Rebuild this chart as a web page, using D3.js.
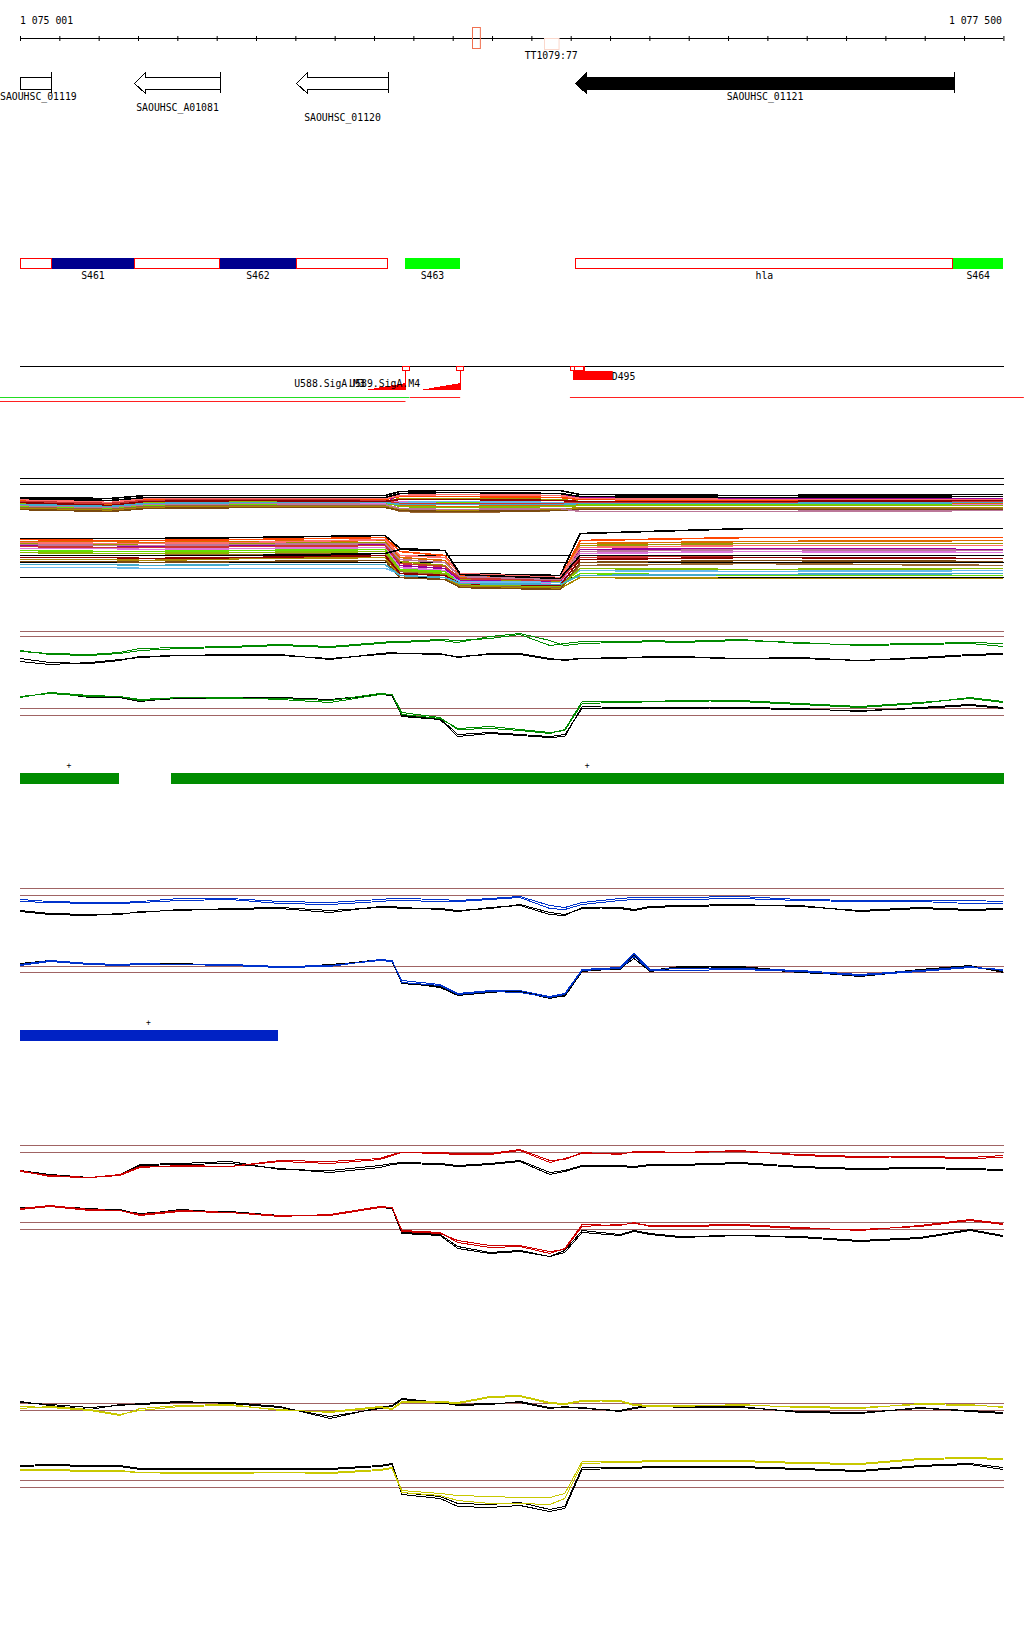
<!DOCTYPE html>
<html><head><meta charset="utf-8">
<script src="https://cdn.jsdelivr.net/npm/d3@7/dist/d3.min.js"></script>
<style>
html,body{margin:0;padding:0;background:#fff;}
svg text{font-family:"DejaVu Sans Mono",monospace;font-size:9.8px;fill:#000;}
</style></head><body>
<svg id="chart" width="1024" height="1640"></svg>
<script>
// ---------------- DATA ----------------
const regionStart = 1075001, regionEnd = 1077500;
const axisLabels = ["1 075 001", "1 077 500"];
const tickValues = d3.range(1075001, 1077502, 100);
const axisMarks = [{start:1076150,end:1076170,kind:"probe"},{start:1076333,end:1076370,kind:"faint",label:"TT1079:77"}];

const geneNames   = ["SAOUHSC_01119","SAOUHSC_A01081","SAOUHSC_01120","SAOUHSC_01121"];
const geneStarts  = [1074950,1075291,1075703,1076412];
const geneEnds    = [1075080,1075509,1075937,1077375];
const geneFilled  = [false,false,false,true];
const geneLabelRow= [0,1,2,0];

const segNames  = ["","S461","","S462","","S463","hla","S464"];
const segStarts = [1075001,1075082,1075291,1075509,1075703,1075979,1076413,1077374];
const segEnds   = [1075082,1075291,1075509,1075703,1075938,1076120,1077374,1077500];
const segTypes  = ["utr","navy","utr","navy","utr","green","utr","green"];

const siteNames = ["U588.SigA.M3","U589.SigA.M4"];
const sitePos   = [1075980,1076119];
const siteFrom  = [1075878,1076018];
const siteBoxes = [[1075973,1075991],[1076109,1076128],[1076400,1076435],[1076409,1076433]];
const termName = "D495", termStart = 1076407, termEnd = 1076508;
const covGreen = [[1074950,1075991]];
const covRedA  = [[1075992,1076120],[1076399,1077553]];
const covRedB  = [[1074950,1075981]];

// knots for the condition panels (bp)
const knots = [1075001,1075077,1075179,1075255,1075306,1075408,1075535,1075662,1075789,1075916,1075947,1075972,1076069,1076114,1076196,1076272,1076348,1076386,1076430,1076526,1076562,1076603,1076679,1076831,1076984,1077136,1077289,1077416,1077500];

const greenUpC1 = [19,17,16,18,22,23,24,26,24,28,29,29,31,30,32,36,25,27,29,29,29,30,29,31,27,26,27,28,27];
const greenUpC2 = [20,16,15,17,20,22,23,25,23,27,28,28,30,28,34,37,30,25,27,28,28,29,28,30,28,25,26,27,24];
const greenUpK1 = [12,8,7,10,14,15,16,16,11,17,18,17,16,14,16,16,11,11,12,13,13,13,13,12,12,10,13,16,17];
const greenUpK2 = [9,6,8,11,13,15,15,15,12,16,17,17,17,13,17,17,12,10,12,12,13,14,14,12,13,10,12,15,16];
const greenLoC1 = [48,53,50,49,45,48,47,47,45,52,51,33,28,16,17,15,12,16,44,44,44,44,44,45,42,39,43,47,43];
const greenLoC2 = [49,52,49,49,46,48,48,46,43,51,51,31,27,17,19,16,13,15,42,43,43,44,45,44,41,38,42,48,44];
const greenLoK1 = [48,53,48,48,44,48,48,47,45,51,51,30,27,11,13,11,9,11,37,37,38,38,38,37,36,35,37,40,37];
const greenLoK2 = [49,52,49,49,45,47,47,48,46,51,50,29,26,9,12,10,8,9,39,38,37,37,37,38,37,34,38,41,38];

const blueUpC1 = [26,24,23,23,24,27,27,24,23,26,27,27,26,25,27,29,20,18,23,27,28,28,28,29,26,25,25,25,24];
const blueUpC2 = [24,23,22,22,23,25,26,22,21,24,25,25,24,24,26,28,17,16,21,25,26,26,26,27,25,24,24,22,22];
const blueUpK1 = [15,12,11,11,14,15,17,18,15,18,18,17,17,15,17,21,13,11,17,18,16,19,20,21,19,15,18,16,17];
const blueUpK2 = [14,11,10,12,13,16,16,17,13,19,19,18,16,14,18,20,11,10,18,17,15,18,19,20,20,14,17,15,16];
const blueLoC1 = [41,45,42,41,42,41,41,39,40,45,44,25,21,12,15,15,9,12,36,38,52,36,37,37,35,31,35,39,35];
const blueLoC2 = [40,44,41,40,41,41,40,38,39,46,45,23,20,11,14,13,8,11,35,37,49,35,35,36,34,30,34,38,36];
const blueLoK1 = [41,44,41,41,41,42,40,38,41,45,44,22,19,11,15,14,7,10,35,36,50,35,39,38,33,30,36,40,33];
const blueLoK2 = [42,45,42,40,42,41,41,39,40,46,45,23,18,10,13,15,8,9,34,37,47,34,38,39,34,29,35,39,34];

const redUpC1 = [14,10,8,11,19,19,19,25,24,27,31,33,32,31,32,36,25,26,33,31,34,33,33,35,30,28,29,28,30];
const redUpC2 = [15,9,8,10,18,20,19,24,22,26,30,33,33,32,31,35,23,27,32,32,33,34,33,34,31,29,28,27,28];
const redUpK1 = [15,11,8,11,21,22,24,16,15,20,22,23,22,20,22,25,13,15,20,20,19,21,21,23,19,17,18,17,16];
const redUpK2 = [15,10,8,10,20,21,22,17,13,18,21,22,21,19,21,24,11,14,19,19,18,20,20,22,18,16,17,16,15];
const redLoC1 = [52,55,51,50,46,50,48,44,46,54,53,30,28,18,13,14,7,12,36,35,38,34,35,36,33,30,35,41,37];
const redLoC2 = [51,54,50,50,45,49,48,45,45,53,53,29,27,20,15,15,9,11,34,36,37,35,34,35,32,31,34,40,36];
const redLoK1 = [52,55,51,51,46,51,48,44,46,54,53,28,26,14,8,10,4,10,30,26,30,27,24,25,24,20,23,31,25];
const redLoK2 = [53,54,52,50,47,50,49,45,45,53,52,27,25,12,7,9,4,8,28,25,29,26,23,25,23,19,22,30,24];

const yelUpC1 = [24,23,20,15,22,25,26,20,19,24,22,29,29,28,34,35,28,27,30,29,25,24,24,26,23,22,27,26,23];
const yelUpC2 = [22,24,21,16,20,24,25,21,18,23,21,28,28,27,33,34,27,26,29,30,26,25,25,25,24,23,26,25,24];
const yelUpK1 = [29,25,21,26,26,28,28,24,12,23,25,32,28,25,26,29,23,23,23,19,22,24,24,24,18,17,23,19,17];
const yelUpK2 = [28,26,23,25,27,29,27,23,14,22,24,31,27,26,27,28,22,24,22,20,23,25,23,23,19,18,22,20,18];
const yelLoC1 = [51,51,50,50,48,48,48,48,48,51,53,30,27,25,24,23,23,27,59,59,59,60,60,60,58,57,62,63,62];
const yelLoC2 = [50,50,49,49,48,47,47,48,47,50,52,28,25,20,17,17,16,22,57,58,58,59,59,59,57,56,61,62,61];
const yelLoK1 = [55,56,55,55,52,52,52,52,52,55,57,28,24,17,16,18,11,14,53,53,53,54,54,54,52,50,55,57,53];
const yelLoK2 = [54,55,54,54,51,51,51,51,51,54,56,26,22,14,13,15,9,12,51,52,52,53,53,53,51,49,54,56,51];

// threshold lines per band
const thrMultiUp = [37,31], thrMultiLo = [40,33,18];
const thrGreenUp = [39,34], thrGreenLo = [37,30];
const thrBlueUp = [37,30],  thrBlueLo = [39,33];
const thrRedUp = [40,33],   thrRedLo = [38,31];
const thrYelUp = [27,20],   thrYelLo = [40,33];

// transcript bars
const greenBars = [[1075001,1075250],[1075386,1077500]];
const blueBars  = [[1075001,1075654]];

// multi-condition panel
const multiKnots = [1075001,1075230,1075319,1075586,1075929,1075967,1076081,1076120,1076374,1076425,1076857,1077500];
const multiColors = ["#000000","#ff4500","#999900","#990099","#dd77dd","#66dd00","#66bbee","#996633","#dd6a00","#aa8800","#ff7070","#7a4a10","#88bb00","#cc3333","#bb7799","#8b0000","#44aacc","#000000"];
const multiUp = [
 [18,17,20,20,20,24,25,25,25,21,20,21],
 [15,12,16,16,16,19,19,19,18,16,15,16],
 [13,9,14,14,14,17,17,17,16,14,13,14],
 [11,9,13,13,12,22,23,23,22,18,17,17],
 [10,8,12,12,12,14,14,14,13,12,11,11],
 [9,7,10,11,11,13,13,13,12,11,11,12],
 [12,10,13,13,13,13,14,14,13,13,12,13],
 [8,6,9,10,10,4,3,3,5,7,7,7],
 [14,11,15,15,15,10,9,9,10,12,12,12],
 [7,5,8,9,9,6,5,5,6,8,8,8],
 [16,13,17,17,17,20,21,21,20,17,16,16],
 [6,4,7,8,8,5,4,4,5,6,6,6],
 [12,9,13,14,14,9,8,8,9,10,10,10],
 [14,12,15,16,15,12,12,12,12,13,13,14],
 [10,8,11,12,11,7,6,6,7,4,4,5],
 [13,10,14,15,14,16,16,16,15,14,14,15],
 [11,9,12,13,13,11,11,11,11,12,12,13],
 [17,15,18,18,18,22,23,23,22,19,18,19]
];
const multiLo = [
 [57,57,57,58,60,47,45,22,20,62,67,67],
 [56,55,55,56,58,44,40,20,17,55,58,58],
 [52,51,52,52,53,34,30,16,14,50,52,52],
 [50,50,49,50,51,30,27,15,13,46,47,46],
 [47,47,46,47,48,28,25,13,11,42,44,43],
 [45,44,44,45,46,26,24,12,10,22,20,20],
 [28,28,27,27,27,22,20,14,13,25,24,25],
 [40,40,40,41,42,24,21,10,8,30,32,30],
 [54,54,53,54,55,38,35,18,16,52,54,55],
 [36,36,35,37,38,20,18,9,7,18,17,17],
 [53,52,52,53,56,40,38,22,18,48,50,50],
 [34,34,33,34,35,18,16,8,6,33,35,34],
 [43,42,42,43,44,25,22,11,9,27,26,27],
 [49,48,48,49,50,32,29,17,15,38,40,40],
 [51,50,50,51,52,36,33,19,16,44,46,45],
 [38,38,37,38,40,22,20,12,10,36,38,37],
 [31,31,30,31,31,20,18,12,11,20,21,22],
 [40,40,40,40,42,46,45,21,17,40,40,40]
];

// ---------------- DRAWING ----------------
const x = d3.scaleLinear().domain([regionStart, regionEnd]).range([20, 1003]);
const svg = d3.select("#chart");
const px = v => Math.round(x(v)) + 0.5;

// axis
const axisG = svg.append("g").attr("transform","translate(0,38.5)");
axisG.call(d3.axisBottom(x).tickValues(tickValues).tickSize(0).tickFormat(""));
axisG.select(".domain").attr("stroke","#000").attr("d", `M${x(regionStart)},0H${x(regionEnd)}`);
axisG.selectAll(".tick line").attr("y1",-2.5).attr("y2",2.5).attr("stroke","#000");
svg.append("text").attr("x",20).attr("y",24).text(axisLabels[0]);
svg.append("text").attr("x",1002).attr("y",24).attr("text-anchor","end").text(axisLabels[1]);
axisMarks.forEach(m=>{
  if(m.kind==="probe"){
    svg.append("rect").attr("x",px(m.start)).attr("y",27.5).attr("width",x(m.end)-x(m.start)).attr("height",21)
      .attr("fill","none").attr("stroke","#f07050");
  } else {
    svg.append("rect").attr("x",px(m.start)).attr("y",38.5).attr("width",x(m.end)-x(m.start)).attr("height",11)
      .attr("fill","none").attr("stroke","#fbd8cc");
    svg.append("text").attr("x",(x(m.start)+x(m.end))/2).attr("y",59).attr("text-anchor","middle").text(m.label);
  }
});

// genes
const gTop=77, gBot=89, hTop=72, hBot=93, head=11;
geneNames.forEach((n,i)=>{
  const clipped = geneStarts[i] < regionStart;
  const x0 = Math.round(x(Math.max(geneStarts[i],regionStart)))+0.5, x1 = Math.round(x(geneEnds[i]))+0.5;
  const fill = geneFilled[i] ? "#000" : "#fff";
  let d;
  if(clipped){ d = `M${x0},${gTop+0.5}H${x1}V${gBot+0.5}H${x0}Z`; }
  else {
    const mid=(gTop+gBot)/2+0.5;
    d = `M${x0},${mid}L${x0+head},${hTop+0.5}V${gTop+0.5}H${x1}V${gBot+0.5}H${x0+head}V${hBot+0.5}Z`;
  }
  svg.append("path").attr("d",d).attr("fill",fill).attr("stroke","#000").attr("shape-rendering","crispEdges");
  svg.append("line").attr("x1",x1).attr("x2",x1).attr("y1",hTop).attr("y2",hBot).attr("stroke","#000");
  const t = svg.append("text").attr("y",100+geneLabelRow[i]*10.5).attr("text-anchor","middle").text(n);
  const w = t.node().getComputedTextLength();
  t.attr("x", Math.max((x0+x1)/2, w/2));
});

// segments
const segColor = {navy:"#00008e", green:"#00ff00"};
segNames.forEach((n,i)=>{
  const x0=x(segStarts[i]), x1=x(segEnds[i]);
  if(segTypes[i]==="utr"){
    svg.append("rect").attr("x",Math.round(x0)+0.5).attr("y",258.5).attr("width",Math.round(x1-x0)-1).attr("height",10)
      .attr("fill","#fff").attr("stroke","#ff0000");
  } else {
    svg.append("rect").attr("x",Math.round(x0)).attr("y",258).attr("width",Math.round(x1-x0)).attr("height",11)
      .attr("fill",segColor[segTypes[i]]);
  }
  if(n) svg.append("text").attr("x",(x0+x1)/2).attr("y",279).attr("text-anchor","middle").text(n);
});

// annotation track
svg.append("line").attr("x1",20).attr("x2",1004).attr("y1",366.5).attr("y2",366.5).attr("stroke","#000");
siteNames.forEach((n,i)=>{
  const xs=Math.round(x(sitePos[i]))+0.5, xf=x(siteFrom[i]);
  svg.append("path").attr("d",`M${xf},390L${xs},383L${xs},390Z`).attr("fill","#ff0000").attr("shape-rendering","crispEdges");
  svg.append("line").attr("x1",xs).attr("x2",xs).attr("y1",370).attr("y2",390).attr("stroke","#ff0000");
  svg.append("text").attr("x",xf).attr("y",387).attr("text-anchor","end").text(n);
});
siteBoxes.forEach(b=>{
  svg.append("rect").attr("x",px(b[0])).attr("y",366.5).attr("width",Math.round(x(b[1])-x(b[0]))).attr("height",4)
    .attr("fill","none").attr("stroke","#ff0000");
});
svg.append("rect").attr("x",Math.round(x(termStart))).attr("y",371).attr("width",x(termEnd)-x(termStart)).attr("height",9).attr("fill","#ff0000");
svg.append("text").attr("x",x(termEnd)-1).attr("y",380).text(termName);
covGreen.forEach(c=>svg.append("line").attr("x1",x(c[0])).attr("x2",x(c[1])).attr("y1",397.5).attr("y2",397.5).attr("stroke","#22dd22"));
covRedA.forEach(c=>svg.append("line").attr("x1",x(c[0])).attr("x2",x(c[1])).attr("y1",397.5).attr("y2",397.5).attr("stroke","#ff2020"));
covRedB.forEach(c=>svg.append("line").attr("x1",x(c[0])).attr("x2",x(c[1])).attr("y1",401.5).attr("y2",401.5).attr("stroke","#ff2020"));

// band helper
function band(bottom, thr, thrColor, seriesList, kn, width){
  const y = d3.scaleLinear().domain([0,60]).range([bottom+0.5, bottom-59.5]);
  const g = svg.append("g");
  thr.forEach(t=>g.append("line").attr("x1",20).attr("x2",1004).attr("y1",y(t)).attr("y2",y(t)).attr("stroke",thrColor));
  const line = d3.line().x(d=>x(d[0])).y(d=>y(d[1]));
  seriesList.forEach(s=>{
    g.append("path").attr("d",line(kn.map((k,i)=>[k,s.v[i]]))).attr("fill","none")
      .attr("stroke",s.c).attr("stroke-width",width||1).attr("shape-rendering","crispEdges");
  });
}

// multi panel
band(515, thrMultiUp, "#000", multiUp.map((v,i)=>({v,c:multiColors[i]})), multiKnots, 1.6);
band(595, thrMultiLo, "#000", multiLo.map((v,i)=>({v,c:multiColors[i]})), multiKnots, 1.6);

const BR = "#a06464";
const K = "#000";
function condPanel(upB, loB, thrU, thrL, col, uc1,uc2,uk1,uk2, lc1,lc2,lk1,lk2){
  band(upB, thrU, BR, [{v:uk1,c:K},{v:uk2,c:K},{v:uc1,c:col},{v:uc2,c:col}], knots, 1);
  band(loB, thrL, BR, [{v:lk1,c:K},{v:lk2,c:K},{v:lc1,c:col},{v:lc2,c:col}], knots, 1);
}
condPanel(670,745,thrGreenUp,thrGreenLo,"#008a00",greenUpC1,greenUpC2,greenUpK1,greenUpK2,greenLoC1,greenLoC2,greenLoK1,greenLoK2);
condPanel(925,1005,thrBlueUp,thrBlueLo,"#0033cc",blueUpC1,blueUpC2,blueUpK1,blueUpK2,blueLoC1,blueLoC2,blueLoK1,blueLoK2);
condPanel(1185,1260,thrRedUp,thrRedLo,"#cc0000",redUpC1,redUpC2,redUpK1,redUpK2,redLoC1,redLoC2,redLoK1,redLoK2);
condPanel(1430,1520,thrYelUp,thrYelLo,"#c8c800",yelUpC1,yelUpC2,yelUpK1,yelUpK2,yelLoC1,yelLoC2,yelLoK1,yelLoK2);

// transcript bars
function bars(list, color, top){
  list.forEach(b=>{
    svg.append("rect").attr("x",Math.round(x(b[0]))).attr("y",top).attr("width",Math.round(x(b[1])-x(b[0]))+1).attr("height",11).attr("fill",color);
    svg.append("text").attr("x",(x(b[0])+x(b[1]))/2).attr("y",top-5).attr("text-anchor","middle").style("font-size","8px").text("+");
  });
}
bars(greenBars,"#008c00",773);
bars(blueBars,"#0022c4",1030);
</script>
</body></html>
